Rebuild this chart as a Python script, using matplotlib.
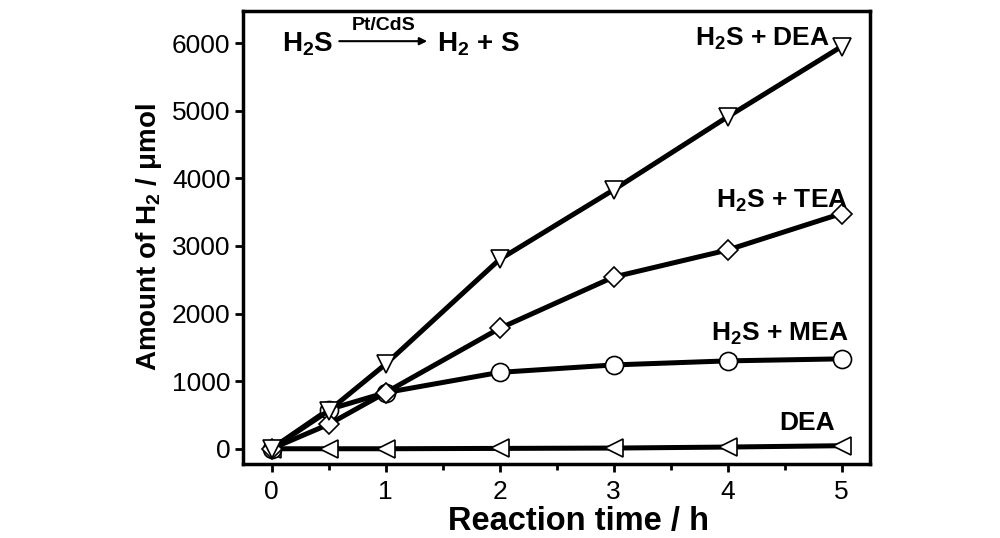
import matplotlib
matplotlib.use("Agg")
import matplotlib.pyplot as plt
from matplotlib.ticker import MultipleLocator

plt.rcParams['font.family'] = ['Liberation Sans', 'DejaVu Sans']
plt.rcParams['mathtext.default'] = 'regular'

# données
t = [0, 0.5, 1, 2, 3, 4, 5]
h2s_dea = [0, 560, 1250, 2800, 3830, 4910, 5950]
h2s_tea = [0, 360, 830, 1780, 2540, 2940, 3480]
h2s_mea = [0, 580, 830, 1130, 1240, 1300, 1330]
dea = [0, 0, 0, 5, 10, 25, 45]

fig = plt.figure(figsize=(10, 5.38), dpi=100)
ax = fig.add_axes([0.243, 0.137, 0.627, 0.843])

style = dict(color='k', lw=3.6, mfc='white', mec='k', mew=1.2, ms=13)
ax.plot(t, dea, marker='<', **style)
ax.plot(t, h2s_mea, marker='o', **style)
ax.plot(t, h2s_tea, marker='D', **dict(style, ms=10))
ax.plot(t, h2s_dea, marker='v', **style)

ax.set_xlim(-0.25, 5.25)
ax.set_ylim(-230, 6480)
ax.xaxis.set_major_locator(MultipleLocator(1))
ax.xaxis.set_minor_locator(MultipleLocator(0.5))
ax.yaxis.set_major_locator(MultipleLocator(1000))
ax.tick_params(which='major', direction='out', length=6, width=2, labelsize=19)
ax.tick_params(which='minor', direction='out', length=4, width=2)
ax.tick_params(axis='x', pad=5)
ax.tick_params(axis='y', pad=3)
for s in ax.spines.values():
    s.set_linewidth(2.5)

ax.set_xlabel('Reaction time / h', fontsize=23.5, fontweight='bold', labelpad=2, x=0.535)
ax.set_ylabel('Amount of H$_2$ / μmol', fontsize=20, fontweight='bold', labelpad=6)

lab = dict(fontsize=19, fontweight='bold', ha='right', va='center')
ax.text(4.9, 6070, 'H$_2$S + DEA', **lab)
ax.text(5.06, 3670, 'H$_2$S + TEA', **lab)
ax.text(5.06, 1700, 'H$_2$S + MEA', **lab)
ax.text(4.94, 385, 'DEA', **lab)

# équation de réaction
ax.text(0.09, 5990, 'H$_2$S', fontsize=20, fontweight='bold', va='center')
ax.annotate('', xy=(1.39, 6030), xytext=(0.57, 6030),
            arrowprops=dict(arrowstyle='-|>', color='k', lw=1.5, mutation_scale=11))
ax.text(0.98, 6140, 'Pt/CdS', fontsize=14, fontweight='bold', ha='center', va='bottom')
ax.text(1.45, 5990, 'H$_2$ + S', fontsize=20, fontweight='bold', va='center')

fig.savefig('out.png', dpi=100)
